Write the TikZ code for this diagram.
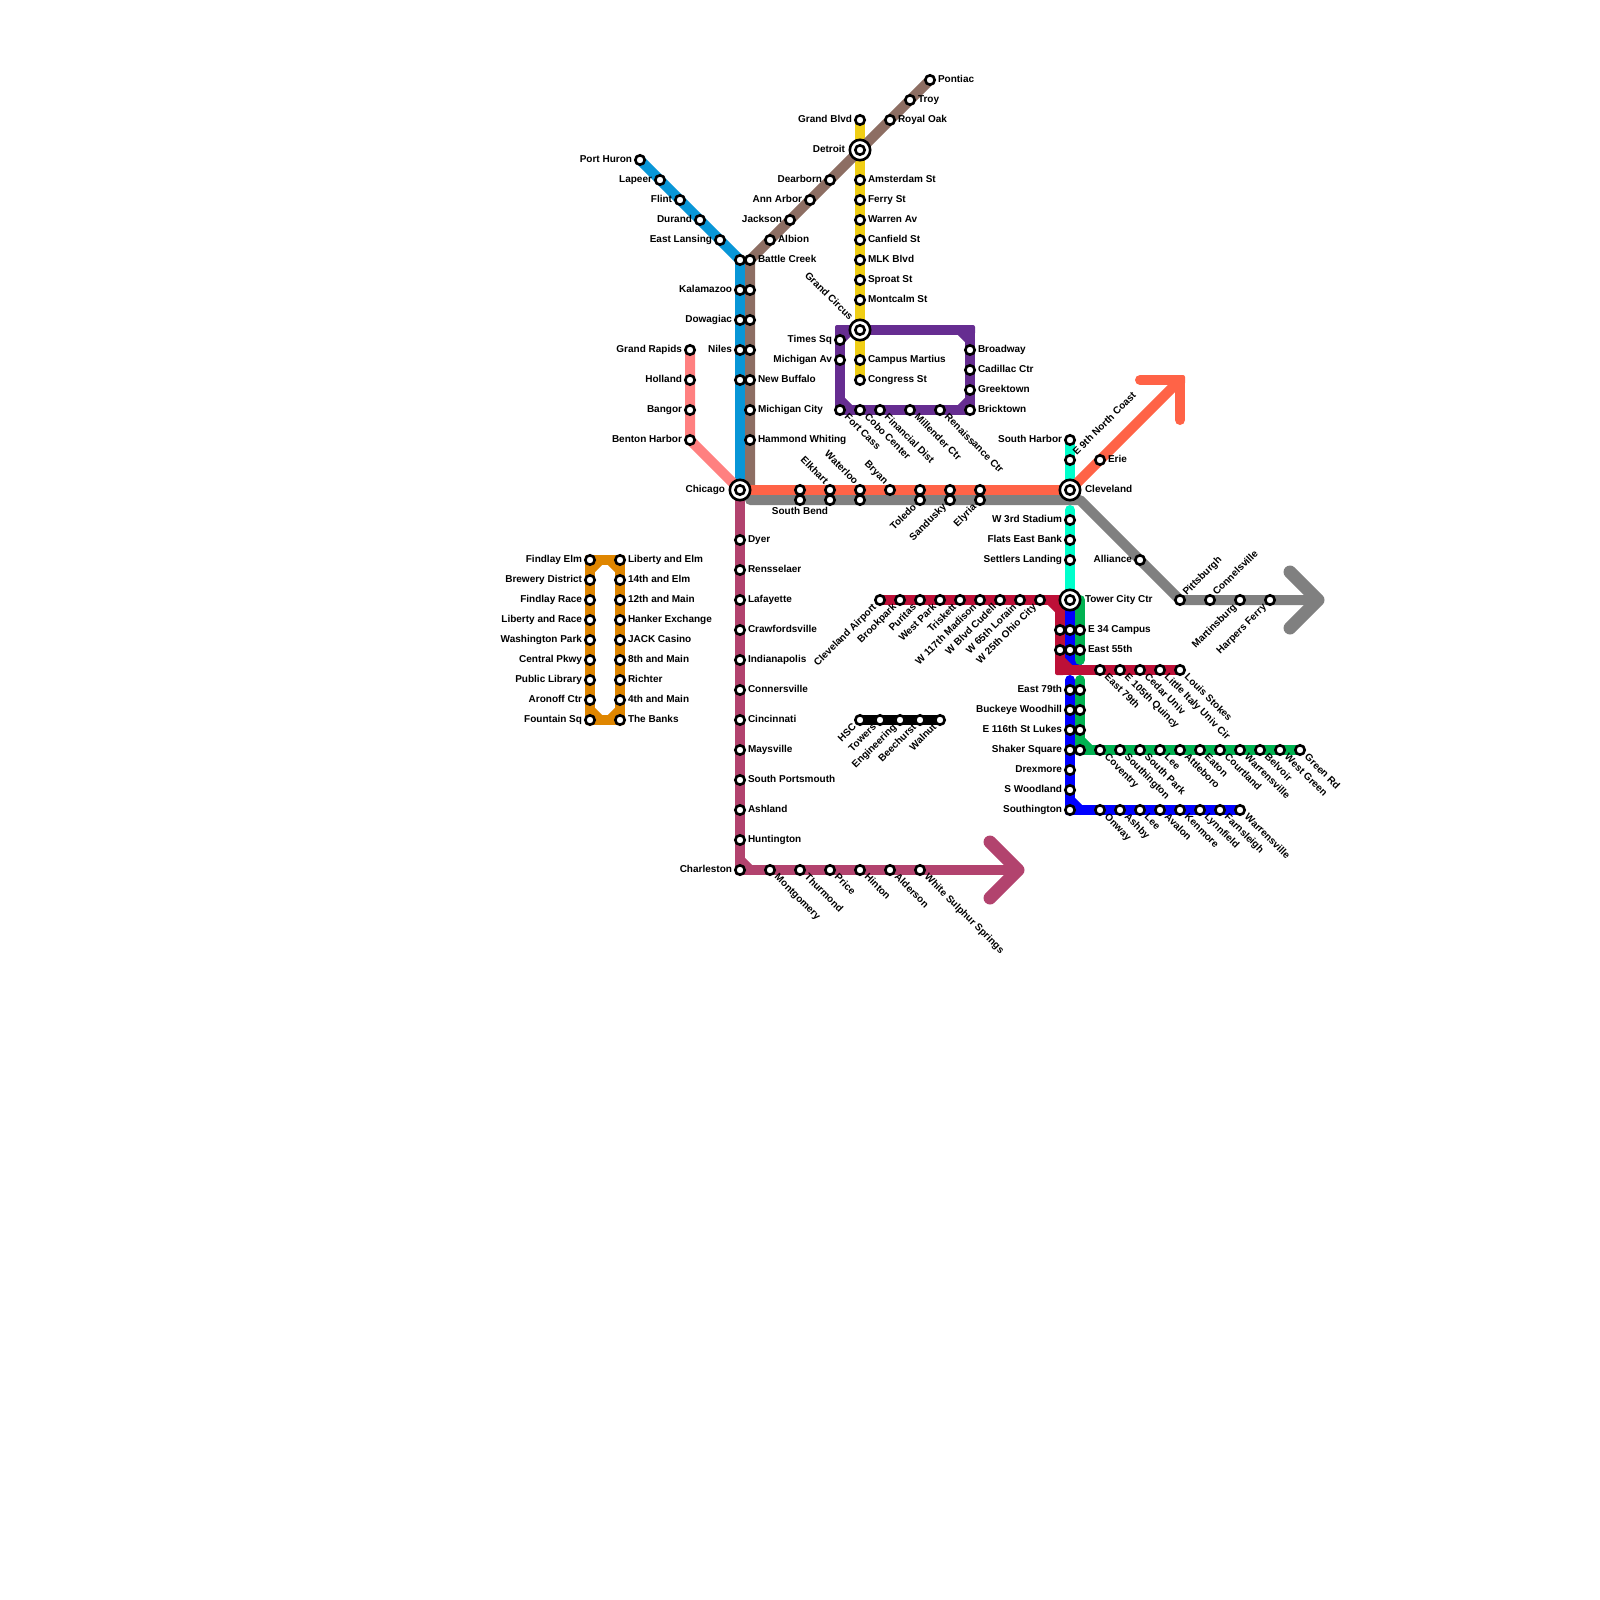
\documentclass[tikz,border=0pt]{standalone}
\usepackage{fontspec}
\setmainfont{Liberation Sans}[BoldFont={Liberation Sans Bold}]
\pgfdeclarelayer{lines}
\pgfsetlayers{lines,main}
\definecolor{cBlue}{HTML}{0896D7}
\definecolor{cBrown}{HTML}{8D6E63}
\definecolor{cYellow}{HTML}{F0CE15}
\definecolor{cPurple}{HTML}{662D91}
\definecolor{cPink}{HTML}{FF8080}
\definecolor{cMaroon}{HTML}{B2436E}
\definecolor{cRed}{HTML}{FF6347}
\definecolor{cGray}{HTML}{808080}
\definecolor{cCyan}{HTML}{00FFCC}
\definecolor{cCrimson}{HTML}{BD1038}
\definecolor{cDeep}{HTML}{0000FF}
\definecolor{cGreen}{HTML}{00B251}
\definecolor{cOrange}{HTML}{DF8600}
\tikzset{
  route/.style={line width=5pt,line cap=round,line join=round},
  barb/.style={line width=6.5pt,line cap=round,line join=round},
  stn/.style={circle,draw=black,fill=white,line width=1.3pt,minimum size=4.7pt,inner sep=0pt,outer sep=0pt},
  hub/.style={circle,draw=black,fill=white,line width=1.3pt,minimum size=10.2pt,inner sep=0pt,outer sep=0pt},
  txt/.style={font=\fontsize{5pt}{5pt}\selectfont\bfseries,text=black,inner sep=0pt,outer sep=0pt,text height=3.6pt,text depth=1pt},
  lr/.style={txt,xshift=4pt,anchor=west},
  ll/.style={txt,xshift=-4pt,anchor=east},
  hr/.style={txt,xshift=7.5pt,anchor=west},
  hl/.style={txt,xshift=-7.5pt,anchor=east},
  ldr/.style={txt,xshift=3pt,yshift=-3pt,rotate=-45,anchor=west},
  lur/.style={txt,xshift=2.5pt,yshift=3pt,rotate=45,anchor=west},
  ldl/.style={txt,xshift=-2.5pt,yshift=-3pt,rotate=45,anchor=east},
  lul/.style={txt,xshift=-2pt,yshift=3.5pt,rotate=-45,anchor=east},
  hul/.style={txt,xshift=-4.5pt,yshift=5.5pt,rotate=-45,anchor=east},
  lb/.style={txt,yshift=-3.5pt,anchor=north},
}
\newcommand{\st}[5]{\node[stn] (#1) at (#2,#3) {}; \node[#4] (#1t) at (#2,#3) {#5};}
\newcommand{\sn}[3]{\node[stn] (#1) at (#2,#3) {};}
\newcommand{\hb}[5]{\node[hub] (#1) at (#2,#3) {}; \node[stn] (#1i) at (#2,#3) {}; \node[#4] (#1t) at (#2,#3) {#5};}
% square-ish outer corner of a right-angle bend, radius 2 px
\newcommand{\bend}[3]{\fill[#1,rounded corners=1pt] ([shift={(-5,-5)}]#2,#3) rectangle ([shift={(5,5)}]#2,#3);}
\begin{document}
\begin{tikzpicture}[x=0.5pt,y=-0.5pt]
\useasboundingbox (0,0) rectangle (1600,1600);
% ---------- stations ----------
\hb{chi}{740}{490}{hl}{Chicago}
\hb{det}{860}{150}{hl}{Detroit}
\hb{gc}{860}{330}{hul}{Grand Circus}
\hb{cle}{1070}{490}{hr}{Cleveland}
\hb{tow}{1070}{600}{hr}{Tower City Ctr}
% blue
\st{a1}{640}{160}{ll}{Port Huron}
\st{a2}{660}{180}{ll}{Lapeer}
\st{a3}{680}{200}{ll}{Flint}
\st{a4}{700}{220}{ll}{Durand}
\st{a5}{720}{240}{ll}{East Lansing}
\sn{a6}{740}{260}
\st{a7}{740}{290}{ll}{Kalamazoo}
\st{a8}{740}{320}{ll}{Dowagiac}
\st{a9}{740}{350}{ll}{Niles}
\sn{a10}{740}{380}
% brown
\st{b1}{930}{80}{lr}{Pontiac}
\st{b2}{910}{100}{lr}{Troy}
\st{b3}{890}{120}{lr}{Royal Oak}
\st{b4}{830}{180}{ll}{Dearborn}
\st{b5}{810}{200}{ll}{Ann Arbor}
\st{b6}{790}{220}{ll}{Jackson}
\st{b7}{770}{240}{lr}{Albion}
\st{b8}{750}{260}{lr}{Battle Creek}
\sn{b9}{750}{290}
\sn{b10}{750}{320}
\sn{b11}{750}{350}
\st{b12}{750}{380}{lr}{New Buffalo}
\st{b13}{750}{410}{lr}{Michigan City}
\st{b14}{750}{440}{lr}{Hammond Whiting}
% yellow
\st{y1}{860}{120}{ll}{Grand Blvd}
\st{y2}{860}{180}{lr}{Amsterdam St}
\st{y3}{860}{200}{lr}{Ferry St}
\st{y4}{860}{220}{lr}{Warren Av}
\st{y5}{860}{240}{lr}{Canfield St}
\st{y6}{860}{260}{lr}{MLK Blvd}
\st{y7}{860}{280}{lr}{Sproat St}
\st{y8}{860}{300}{lr}{Montcalm St}
\st{y9}{860}{360}{lr}{Campus Martius}
\st{y10}{860}{380}{lr}{Congress St}
% purple
\st{p1}{840}{340}{ll}{Times Sq}
\st{p2}{840}{360}{ll}{Michigan Av}
\st{p3}{840}{410}{ldr}{Fort Cass}
\st{p4}{860}{410}{ldr}{Cobo Center}
\st{p5}{880}{410}{ldr}{Financial Dist}
\st{p6}{910}{410}{ldr}{Millender Ctr}
\st{p7}{940}{410}{ldr}{Renaissance Ctr}
\st{p8}{970}{410}{lr}{Bricktown}
\st{p9}{970}{390}{lr}{Greektown}
\st{p10}{970}{370}{lr}{Cadillac Ctr}
\st{p11}{970}{350}{lr}{Broadway}
% pink
\st{k1}{690}{350}{ll}{Grand Rapids}
\st{k2}{690}{380}{ll}{Holland}
\st{k3}{690}{410}{ll}{Bangor}
\st{k4}{690}{440}{ll}{Benton Harbor}
% maroon
\st{m1}{740}{540}{lr}{Dyer}
\st{m2}{740}{570}{lr}{Rensselaer}
\st{m3}{740}{600}{lr}{Lafayette}
\st{m4}{740}{630}{lr}{Crawfordsville}
\st{m5}{740}{660}{lr}{Indianapolis}
\st{m6}{740}{690}{lr}{Connersville}
\st{m7}{740}{720}{lr}{Cincinnati}
\st{m8}{740}{750}{lr}{Maysville}
\st{m9}{740}{780}{lr}{South Portsmouth}
\st{m10}{740}{810}{lr}{Ashland}
\st{m11}{740}{840}{lr}{Huntington}
\st{m12}{740}{870}{ll}{Charleston}
\st{m13}{770}{870}{ldr}{Montgomery}
\st{m14}{800}{870}{ldr}{Thurmond}
\st{m15}{830}{870}{ldr}{Price}
\st{m16}{860}{870}{ldr}{Hinton}
\st{m17}{890}{870}{ldr}{Alderson}
\st{m18}{920}{870}{ldr}{White Sulphur Springs}
% red + gray row
\sn{r1}{800}{490}
\st{r2}{830}{490}{lul}{Elkhart}
\st{r3}{860}{490}{lul}{Waterloo}
\st{r4}{890}{490}{lul}{Bryan}
\sn{r5}{920}{490}
\sn{r6}{950}{490}
\sn{r7}{980}{490}
\st{r8}{1100}{460}{lr}{Erie}
\st{g1}{800}{500}{lb}{South Bend}
\sn{g2}{830}{500}
\sn{g3}{860}{500}
\st{g4}{920}{500}{ldl}{Toledo}
\st{g5}{950}{500}{ldl}{Sandusky}
\st{g6}{980}{500}{ldl}{Elyria}
\st{g7}{1140}{560}{ll}{Alliance}
\st{g8}{1180}{600}{lur}{Pittsburgh}
\st{g9}{1210}{600}{lur}{Connelsville}
\st{g10}{1240}{600}{ldl}{Martinsburg}
\st{g11}{1270}{600}{ldl}{Harpers Ferry}
% cyan
\st{c1}{1070}{440}{ll}{South Harbor}
\st{c2}{1070}{460}{lur}{E 9th North Coast}
\st{c3}{1070}{520}{ll}{W 3rd Stadium}
\st{c4}{1070}{540}{ll}{Flats East Bank}
\st{c5}{1070}{560}{ll}{Settlers Landing}
% crimson
\st{x1}{880}{600}{ldl}{Cleveland Airport}
\st{x2}{900}{600}{ldl}{Brookpark}
\st{x3}{920}{600}{ldl}{Puritas}
\st{x4}{940}{600}{ldl}{West Park}
\st{x5}{960}{600}{ldl}{Triskett}
\st{x6}{980}{600}{ldl}{W 117th Madison}
\st{x7}{1000}{600}{ldl}{W Blvd Cudell}
\st{x8}{1020}{600}{ldl}{W 65th Lorain}
\st{x9}{1040}{600}{ldl}{W 25th Ohio City}
\sn{x10}{1060}{630}
\sn{x11}{1060}{650}
\st{x12}{1100}{670}{ldr}{East 79th}
\st{x13}{1120}{670}{ldr}{E 105th Quincy}
\st{x14}{1140}{670}{ldr}{Cedar Univ}
\st{x15}{1160}{670}{ldr}{Little Italy Univ Cir}
\st{x16}{1180}{670}{ldr}{Louis Stokes}
% deep blue
\sn{d1}{1070}{630}
\sn{d2}{1070}{650}
\st{d3}{1070}{690}{ll}{East 79th}
\st{d4}{1070}{710}{ll}{Buckeye Woodhill}
\st{d5}{1070}{730}{ll}{E 116th St Lukes}
\st{d6}{1070}{750}{ll}{Shaker Square}
\st{d7}{1070}{770}{ll}{Drexmore}
\st{d8}{1070}{790}{ll}{S Woodland}
\st{d9}{1070}{810}{ll}{Southington}
\st{d10}{1100}{810}{ldr}{Onway}
\st{d11}{1120}{810}{ldr}{Ashby}
\st{d12}{1140}{810}{ldr}{Lee}
\st{d13}{1160}{810}{ldr}{Avalon}
\st{d14}{1180}{810}{ldr}{Kenmore}
\st{d15}{1200}{810}{ldr}{Lynnfield}
\st{d16}{1220}{810}{ldr}{Farnsleigh}
\st{d17}{1240}{810}{ldr}{Warrensville}
% green
\st{n1}{1080}{630}{lr}{E 34 Campus}
\st{n2}{1080}{650}{lr}{East 55th}
\sn{n3}{1080}{690}
\sn{n4}{1080}{710}
\sn{n5}{1080}{730}
\sn{n6}{1080}{750}
\st{n7}{1100}{750}{ldr}{Coventry}
\st{n8}{1120}{750}{ldr}{Southington}
\st{n9}{1140}{750}{ldr}{South Park}
\st{n10}{1160}{750}{ldr}{Lee}
\st{n11}{1180}{750}{ldr}{Attleboro}
\st{n12}{1200}{750}{ldr}{Eaton}
\st{n13}{1220}{750}{ldr}{Courtland}
\st{n14}{1240}{750}{ldr}{Warrensville}
\st{n15}{1260}{750}{ldr}{Belvoir}
\st{n16}{1280}{750}{ldr}{West Green}
\st{n17}{1300}{750}{ldr}{Green Rd}
% black
\st{h1}{860}{720}{ldl}{HSC}
\st{h2}{880}{720}{ldl}{Towers}
\st{h3}{900}{720}{ldl}{Engineering}
\st{h4}{920}{720}{ldl}{Beechurst}
\st{h5}{940}{720}{ldl}{Walnut}
% orange
\st{o1}{590}{560}{ll}{Findlay Elm}
\st{o2}{590}{580}{ll}{Brewery District}
\st{o3}{590}{600}{ll}{Findlay Race}
\st{o4}{590}{620}{ll}{Liberty and Race}
\st{o5}{590}{640}{ll}{Washington Park}
\st{o6}{590}{660}{ll}{Central Pkwy}
\st{o7}{590}{680}{ll}{Public Library}
\st{o8}{590}{700}{ll}{Aronoff Ctr}
\st{o9}{590}{720}{ll}{Fountain Sq}
\st{q1}{620}{560}{lr}{Liberty and Elm}
\st{q2}{620}{580}{lr}{14th and Elm}
\st{q3}{620}{600}{lr}{12th and Main}
\st{q4}{620}{620}{lr}{Hanker Exchange}
\st{q5}{620}{640}{lr}{JACK Casino}
\st{q6}{620}{660}{lr}{8th and Main}
\st{q7}{620}{680}{lr}{Richter}
\st{q8}{620}{700}{lr}{4th and Main}
\st{q9}{620}{720}{lr}{The Banks}
% ---------- route way-points ----------
\coordinate (bn) at (750,490);
\coordinate (aJ) at (740,260);
\coordinate (rTip) at (1180,380);
\coordinate (rB1) at (1140,380);
\coordinate (rB2) at (1180,420);
\coordinate (gS) at (750,500);
\coordinate (gE) at (1080,500);
\coordinate (gTip) at (1318,600);
\coordinate (gB1) at (1290,572);
\coordinate (gB2) at (1290,628);
\coordinate (mTip) at (1018,870);
\coordinate (mB1) at (990,842);
\coordinate (mB2) at (990,898);
\coordinate (mC1) at (740,860);
\coordinate (mC2) at (750,870);
\coordinate (pTL) at (840,330);
\coordinate (pTR) at (970,330);
\coordinate (pBL) at (840,410);
\coordinate (pT1) at (850,330);
\coordinate (pT2) at (960,330);
\coordinate (pR1) at (970,340);
\coordinate (pR2) at (970,400);
\coordinate (pB1) at (960,410);
\coordinate (pL1) at (840,400);
\coordinate (pL2) at (850,410);
\coordinate (cyS) at (1070,510);
\coordinate (xCn) at (1060,600);
\coordinate (xC1) at (1050,600);
\coordinate (xC2) at (1060,610);
\coordinate (xB) at (1060,670);
\coordinate (xB1) at (1060,660);
\coordinate (xB2) at (1070,670);
\coordinate (dS) at (1070,680);
\coordinate (dE) at (1070,660);
\coordinate (dE2) at (1080,670);
\coordinate (dC1) at (1070,800);
\coordinate (dC2) at (1080,810);
\coordinate (nT) at (1080,600);
\coordinate (nE) at (1080,660);
\coordinate (nS) at (1080,680);
\coordinate (nC1) at (1080,740);
\coordinate (nC2) at (1090,750);
\coordinate (oT) at (590,570);
\coordinate (oU) at (600,560);
\coordinate (oV) at (610,560);
\coordinate (oW) at (620,570);
\coordinate (oA) at (590,710);
\coordinate (oB) at (600,720);
\coordinate (oC) at (610,720);
\coordinate (oD) at (620,710);
% ---------- routes ----------
\begin{pgfonlayer}{lines}
\draw[route,cCyan] (c1.center) -- (cle.center);
\draw[route,cCyan] (cyS) -- (tow.center);
\draw[route,cYellow] (y1.center) -- (y10.center);
\draw[route,cBlue] (a1.center) -- (aJ) -- (chi.center);
\draw[route,cBrown] (b1.center) -- (b8.center) -- (bn);
\draw[route,cPink] (k1.center) -- (k4.center) -- (chi.center);
\draw[route,cPurple] (pTL) -- (pTR) -- (p8.center) -- (pBL) -- cycle;
\draw[route,cPurple] (p1.center) -- (pT1);
\draw[route,cPurple] (pT2) -- (pR1);
\draw[route,cPurple] (pR2) -- (pB1);
\draw[route,cPurple] (pL1) -- (pL2);
\bend{cPurple}{840}{330}\bend{cPurple}{970}{330}\bend{cPurple}{970}{410}\bend{cPurple}{840}{410}
\draw[route,cMaroon] (chi.center) -- (m12.center) -- (mTip);
\draw[route,cMaroon] (mC1) -- (mC2);
\bend{cMaroon}{740}{870}
\draw[barb,cMaroon] (mB1) -- (mTip) -- (mB2);
\draw[route,cRed] (chi.center) -- (cle.center) -- (rTip);
\draw[route,cRed] (rB1) -- (rTip) -- (rB2);
\bend{cRed}{1180}{380}
\draw[route,cGray] (gS) -- (gE) -- (g8.center) -- (gTip);
\draw[barb,cGray] (gB1) -- (gTip) -- (gB2);
\draw[route,cDeep] (tow.center) -- (dE) -- (dE2);
\draw[route,cDeep] (dS) -- (d9.center) -- (d17.center);
\draw[route,cDeep] (dC1) -- (dC2);
\bend{cDeep}{1070}{810}
\draw[route,cGreen] (nT) -- (nE);
\draw[route,cGreen] (nS) -- (n6.center) -- (n17.center);
\draw[route,cGreen] (nC1) -- (nC2);
\bend{cGreen}{1080}{750}
\draw[route,cCrimson] (x1.center) -- (xCn) -- (xB) -- (x16.center);
\draw[route,cCrimson] (xC1) -- (xC2);
\draw[route,cCrimson] (xB1) -- (xB2);
\bend{cCrimson}{1060}{600}\bend{cCrimson}{1060}{670}
\draw[route,black] (h1.center) -- (h5.center);
\draw[route,cOrange] (o1.center) -- (q1.center) -- (q9.center) -- (o9.center) -- cycle;
\draw[route,cOrange] (oT) -- (oU);
\draw[route,cOrange] (oV) -- (oW);
\draw[route,cOrange] (oA) -- (oB);
\draw[route,cOrange] (oC) -- (oD);
\bend{cOrange}{590}{560}\bend{cOrange}{620}{560}\bend{cOrange}{620}{720}\bend{cOrange}{590}{720}
\end{pgfonlayer}
\end{tikzpicture}
\end{document}
